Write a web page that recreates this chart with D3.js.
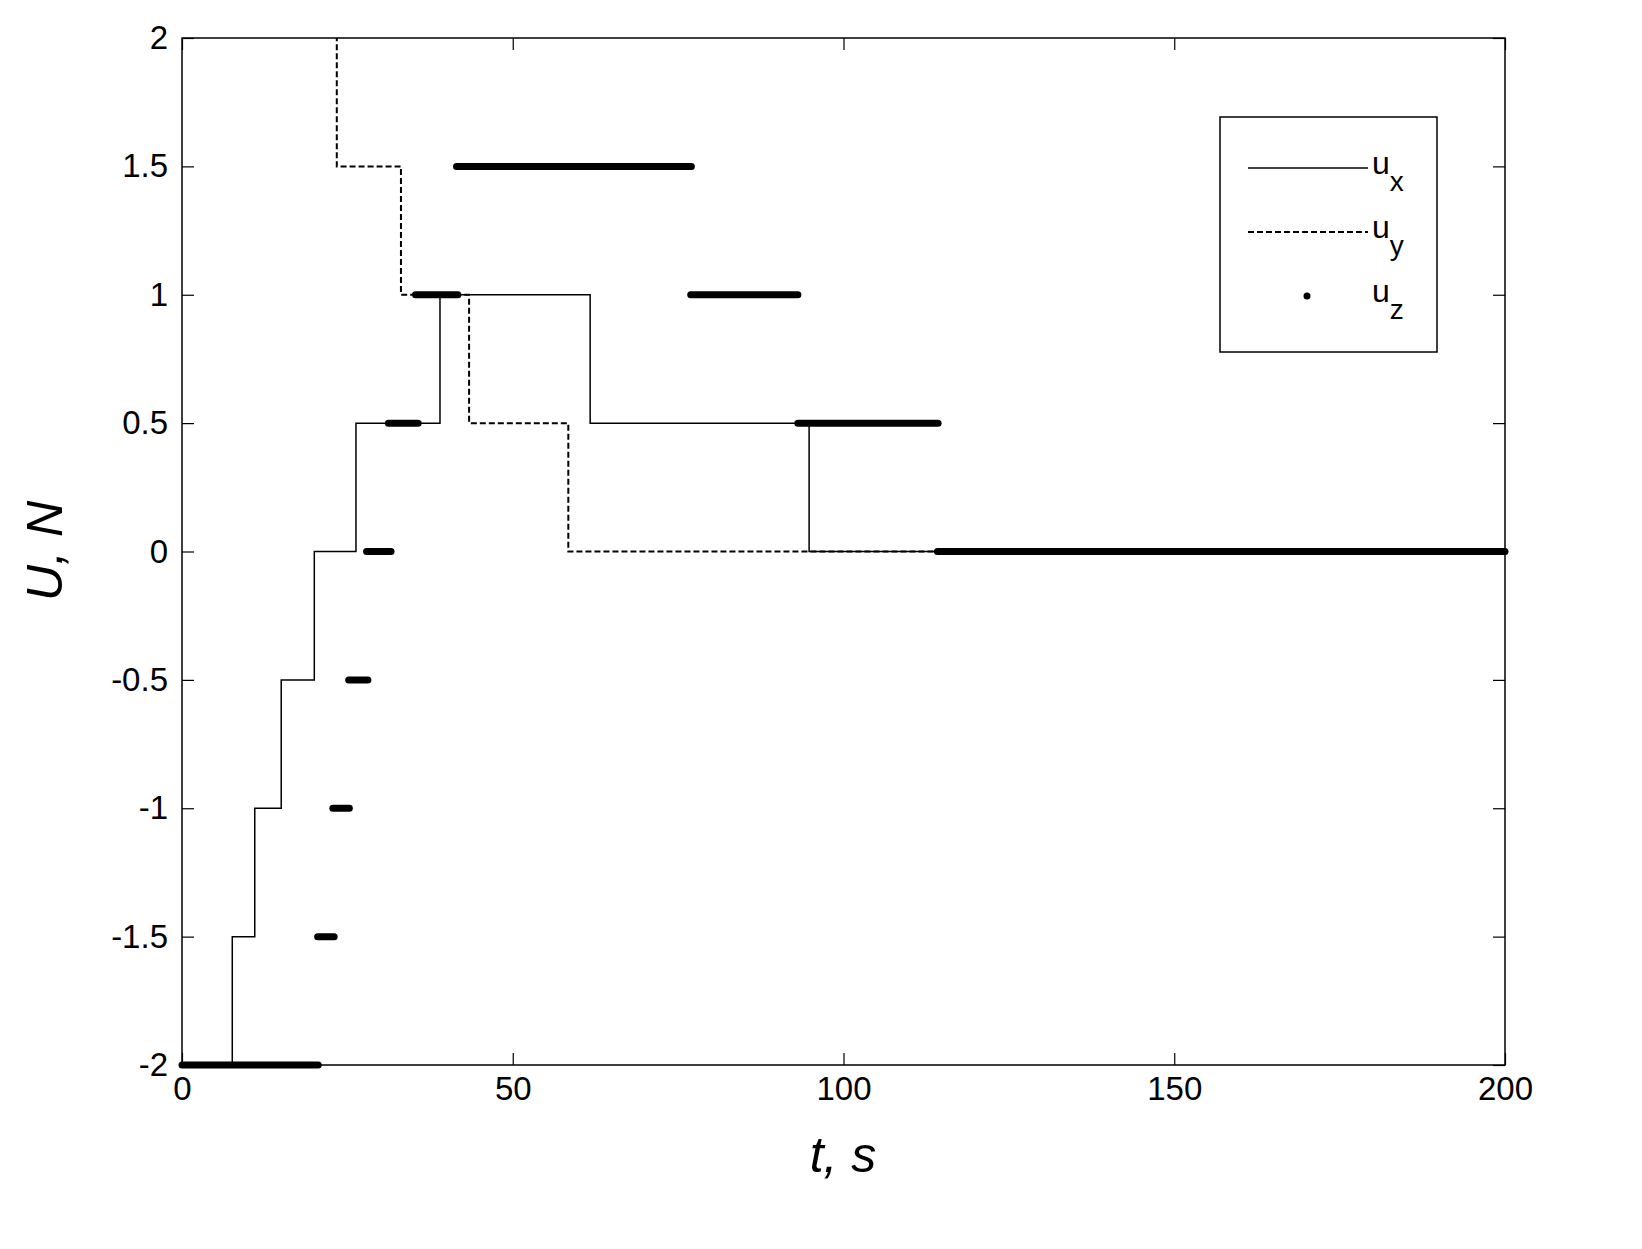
<!DOCTYPE html>
<html><head><meta charset="utf-8">
<script src="https://cdn.jsdelivr.net/npm/d3@7"></script>
<style>body{margin:0;background:#fff}</style></head>
<body><svg id="c" width="1642" height="1249"></svg>
<script>
const xTicks=[0,50,100,150,200];
const yTicks=[-2,-1.5,-1,-0.5,0,0.5,1,1.5,2];
// u_x steps: [t, value] (value holds from t until next t)
const uxT=[0,7.6,11,15,20,26.3,39,61.7,94.8,200];
const uxV=[-2,-1.5,-1,-0.5,0,0.5,1,0.5,0,0];
const uyT=[0,23.4,33.1,43.4,58.4,200];
const uyV=[2.6,1.5,1,0.5,0,0];
// u_z segments
const uzStart=[0,20.5,22.8,25.2,27.9,31.2,35.3,41.5,76.9,93.1,114.2];
const uzEnd=[20.6,23,25.3,28.1,31.6,35.7,41.7,77,93.1,114.3,200];
const uzV=[-2,-1.5,-1,-0.5,0,0.5,1,1.5,1,0.5,0];

const svg=d3.select("#c");
const L=182,R=1505,T=38,B=1065;
const x=d3.scaleLinear().domain([0,200]).range([L,R]);
const y=d3.scaleLinear().domain([-2,2]).range([B,T]);
const g=svg.append("g");
g.append("defs").append("clipPath").attr("id","cp").append("rect").attr("x",L).attr("y",T).attr("width",R-L).attr("height",B-T);
const font="'Liberation Sans',Arial,sans-serif";
const ax=(sel)=>sel.selectAll("text").attr("font-family",font).attr("font-size",33).attr("fill","#000");
g.append("g").attr("transform",`translate(0,${B})`).call(d3.axisBottom(x).tickValues(xTicks).tickSizeInner(-12).tickSizeOuter(0).tickPadding(12)).call(ax);
g.append("g").attr("transform",`translate(${L},0)`).call(d3.axisLeft(y).tickValues(yTicks).tickFormat(d=>d).tickSizeInner(-12).tickSizeOuter(0).tickPadding(14)).call(ax);
g.append("g").attr("transform",`translate(0,${T})`).call(d3.axisTop(x).tickValues(xTicks).tickSizeInner(-12).tickSizeOuter(0).tickFormat(""));
g.append("g").attr("transform",`translate(${R},0)`).call(d3.axisRight(y).tickValues(yTicks).tickSizeInner(-12).tickSizeOuter(0).tickFormat(""));
g.selectAll(".domain").remove();
g.append("rect").attr("x",L).attr("y",T).attr("width",R-L).attr("height",B-T).attr("fill","none").attr("stroke","#000").attr("stroke-width",1.5);
g.selectAll(".tick line").attr("stroke","#000").attr("stroke-width",1.2);

const step=d3.line().curve(d3.curveStepAfter).x(d=>x(d[0])).y(d=>y(d[1]));
const pc=g.append("g").attr("clip-path","url(#cp)");
pc.append("path").attr("d",step(uxT.map((t,i)=>[t,uxV[i]]))).attr("fill","none").attr("stroke","#000").attr("stroke-width",1.5);
pc.append("path").attr("d",step(uyT.map((t,i)=>[t,uyV[i]]))).attr("fill","none").attr("stroke","#000").attr("stroke-width",2).attr("stroke-dasharray","6,3");
g.selectAll(".uz").data(uzV).join("line").attr("x1",(d,i)=>x(uzStart[i])).attr("x2",(d,i)=>x(uzEnd[i])).attr("y1",d=>y(d)).attr("y2",d=>y(d)).attr("stroke","#000").attr("stroke-width",7).attr("stroke-linecap","round");

// legend
const lg=g.append("g");
lg.append("rect").attr("x",1220).attr("y",117).attr("width",217).attr("height",235).attr("fill","#fff").attr("stroke","#000").attr("stroke-width",1.5);
const items=[["x","solid"],["y","dash"],["z","dot"]];
items.forEach((it,i)=>{
  const yy=168+i*64;
  if(it[1]==="solid")lg.append("line").attr("x1",1248).attr("x2",1368).attr("y1",yy).attr("y2",yy).attr("stroke","#000").attr("stroke-width",1.5);
  if(it[1]==="dash")lg.append("line").attr("x1",1248).attr("x2",1368).attr("y1",yy).attr("y2",yy).attr("stroke","#000").attr("stroke-width",2).attr("stroke-dasharray","6,3");
  if(it[1]==="dot")lg.append("circle").attr("cx",1307).attr("cy",yy).attr("r",3.5).attr("fill","#000");
  const t=lg.append("text").attr("x",1372).attr("y",yy+6).attr("font-family",font).attr("font-size",32);
  t.append("tspan").text("u");
  t.append("tspan").attr("dy",17).attr("font-size",28).text(it[0]);
});
svg.append("text").attr("x",843).attr("y",1172).attr("text-anchor","middle").attr("font-family",font).attr("font-style","italic").attr("font-size",50).text("t, s");
svg.append("text").attr("transform","translate(62,551) rotate(-90)").attr("text-anchor","middle").attr("font-family",font).attr("font-style","italic").attr("font-size",50).text("U, N");
</script></body></html>
